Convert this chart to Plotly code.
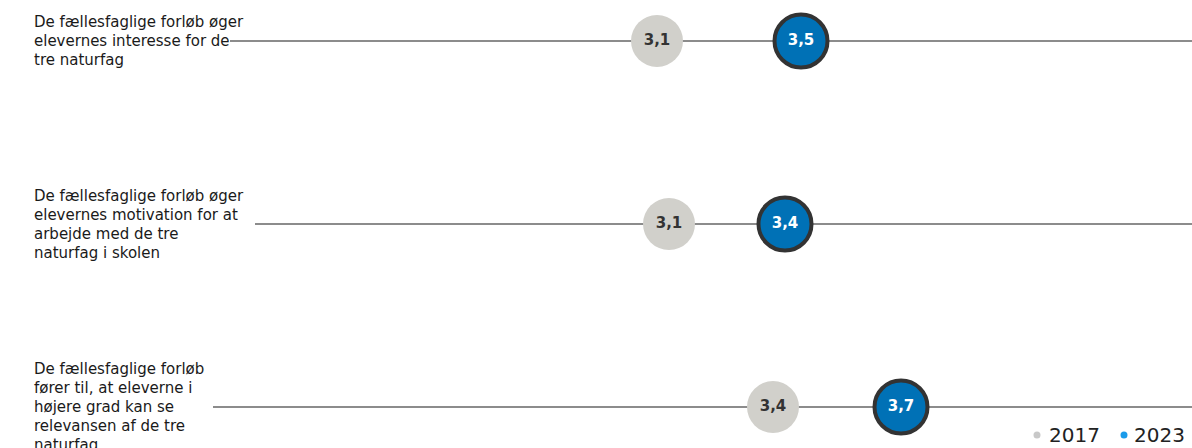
import plotly.graph_objects as go

# ---- data ----
label_lines = [
    ["De fællesfaglige forløb øger", "elevernes interesse for de", "tre naturfag"],
    ["De fællesfaglige forløb øger", "elevernes motivation for at", "arbejde med de tre", "naturfag i skolen"],
    ["De fællesfaglige forløb", "fører til, at eleverne i", "højere grad kan se", "relevansen af de tre", "naturfag"],
]
values_2017 = [3.10, 3.13, 3.39]
values_2023 = [3.46, 3.42, 3.71]
series_names = ["2017", "2023"]

# ---- style ----
W, H = 1192, 448
line_start_px = [230, 255, 213]
grey = "#D1D0CB"
blue = "#0071B6"
ring = "#333333"
legend_dot_colors = ["#C8C8C8", "#1A9BEA"]
legend_dot_px = [1037, 1124]
legend_text_px = [1047, 1132]
legend_y_px = 435
font_family = "DejaVu Sans, Verdana, sans-serif"
line_h = 19

rows = list(range(len(label_lines)))

def fmt(v):
    return f"{v:.1f}".replace(".", ",")

fig = go.Figure()

fig.add_trace(go.Scatter(
    x=values_2017, y=rows, mode="markers+text", name=series_names[0],
    marker=dict(size=52, color=grey, line=dict(width=0)),
    text=[fmt(v) for v in values_2017], textposition="middle center",
    textfont=dict(family=font_family, size=15, color="#333333", weight="bold"),
    showlegend=False, hoverinfo="skip",
))
fig.add_trace(go.Scatter(
    x=values_2023, y=rows, mode="markers+text", name=series_names[1],
    marker=dict(size=53, color=blue, line=dict(width=4, color=ring)),
    text=[fmt(v) for v in values_2023], textposition="middle center",
    textfont=dict(family=font_family, size=15, color="white", weight="bold"),
    showlegend=False, hoverinfo="skip",
))

shapes = []
annotations = []
for i, lines in enumerate(label_lines):
    shapes.append(dict(type="line", xref="paper", yref="y", x0=line_start_px[i] / W, x1=1,
                       y0=i, y1=i, line=dict(color="#8C8C8C", width=2), layer="below"))
    n = len(lines)
    for k, t in enumerate(lines):
        annotations.append(dict(
            text=t, xref="paper", yref="y", x=32 / W, y=i, xanchor="left", yanchor="middle",
            yshift=((n - 1) / 2 - k) * line_h, showarrow=False,
            font=dict(family=font_family, size=15, color="#1A1A1A"),
        ))

# legend (manual, to match spacing)
ly = 1 - legend_y_px / H
for name, col, dx, tx in zip(series_names, legend_dot_colors, legend_dot_px, legend_text_px):
    shapes.append(dict(type="circle", xref="paper", yref="paper", xsizemode="pixel", ysizemode="pixel",
                       xanchor=dx / W, yanchor=ly, x0=-3.5, x1=3.5, y0=-3.5, y1=3.5,
                       fillcolor=col, line=dict(width=0)))
    annotations.append(dict(text=name, xref="paper", yref="paper", x=tx / W, y=ly,
                            xanchor="left", yanchor="middle", showarrow=False,
                            font=dict(family=font_family, size=20, color="#222222")))

fig.update_layout(
    width=W, height=H, margin=dict(l=0, r=0, t=0, b=0),
    paper_bgcolor="white", plot_bgcolor="white",
    xaxis=dict(range=[1.4575, 4.4375], visible=False, fixedrange=True),
    yaxis=dict(range=[2.224, -0.224], visible=False, fixedrange=True),
    shapes=shapes, annotations=annotations,
    showlegend=False,
)

fig.write_html("out.html")
